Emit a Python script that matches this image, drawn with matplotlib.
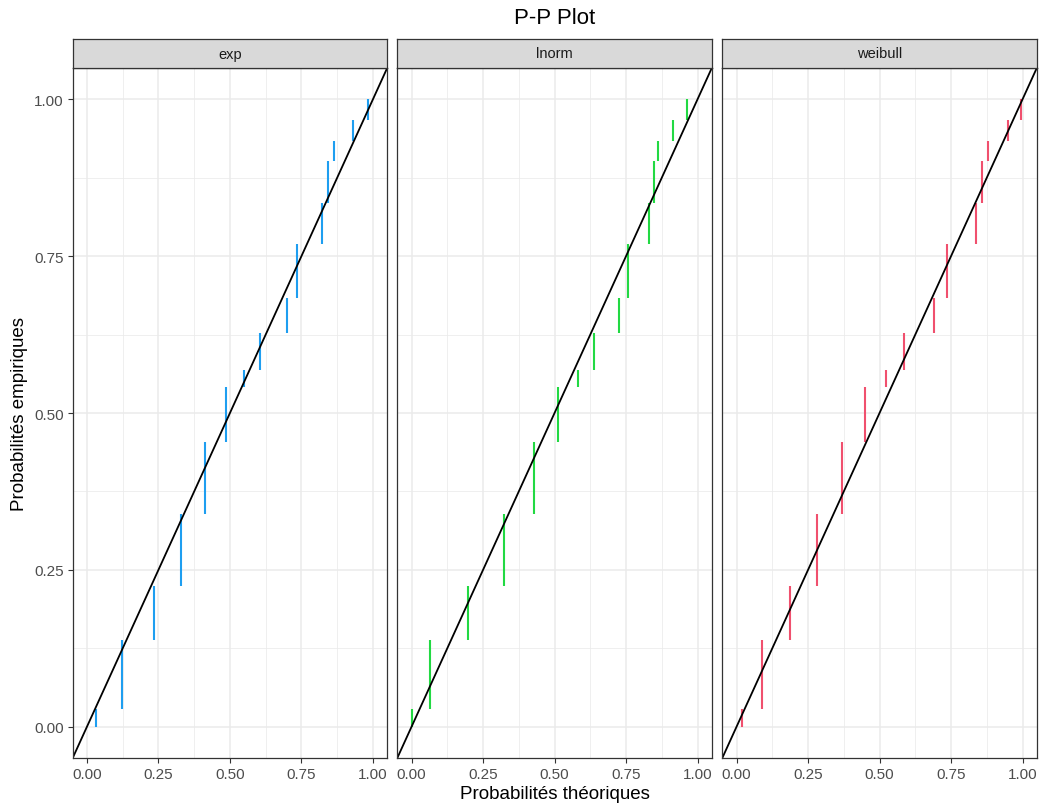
import matplotlib
matplotlib.use('Agg')
import numpy as np
from matplotlib import pyplot as plt

plt.rcParams['font.family'] = ['Liberation Sans', 'DejaVu Sans']

# Facettes
facets = ['exp', 'lnorm', 'weibull']
colors = ['#1E9EF0', '#22D943', '#F0506E']

# Bornes des probabilités empiriques (communes aux trois lois)
y_breaks = [0.0, 0.028, 0.1385, 0.224, 0.339, 0.453, 0.541, 0.569,
            0.627, 0.684, 0.770, 0.835, 0.901, 0.934, 0.967, 1.0]

# Probabilités théoriques par loi
x_exp = [0.033, 0.124, 0.235, 0.330, 0.414, 0.486, 0.550, 0.606,
         0.699, 0.736, 0.823, 0.844, 0.865, 0.930, 0.984]
x_lnorm = [0.0, 0.064, 0.198, 0.323, 0.428, 0.513, 0.581, 0.639,
           0.724, 0.757, 0.830, 0.847, 0.862, 0.915, 0.965]
x_weibull = [0.020, 0.089, 0.187, 0.282, 0.370, 0.450, 0.522, 0.585,
             0.692, 0.736, 0.836, 0.860, 0.881, 0.949, 0.995]
x_all = [x_exp, x_lnorm, x_weibull]

ticks = [0.0, 0.25, 0.5, 0.75, 1.0]
tick_labels = ['0.00', '0.25', '0.50', '0.75', '1.00']

W, H = 1043, 812
fig = plt.figure(figsize=(W / 100, H / 100), dpi=100)

panel_left = [72.7, 397.3, 722.3]
panel_w = 314.5
panel_top, panel_bottom = 69, 759
strip_top = 40

for i, name in enumerate(facets):
    l = panel_left[i] / W
    b = 1 - panel_bottom / H
    ax = fig.add_axes([l, b, panel_w / W, (panel_bottom - panel_top) / H])
    ax.set_xlim(-0.05, 1.05)
    ax.set_ylim(-0.05, 1.05)
    ax.set_xticks(ticks)
    ax.set_yticks(ticks)
    ax.set_xticks([0.125, 0.375, 0.625, 0.875], minor=True)
    ax.set_yticks([0.125, 0.375, 0.625, 0.875], minor=True)
    ax.grid(which='major', color='#EBEBEB', lw=1.1)
    ax.grid(which='minor', color='#EBEBEB', lw=0.55)
    ax.set_axisbelow(True)
    ax.tick_params(which='minor', length=0)
    ax.tick_params(which='major', length=3.5, width=0.8, color='#333333',
                   labelsize=11, labelcolor='#4D4D4D', pad=3)
    ax.set_xticklabels(tick_labels)
    if i == 0:
        ax.set_yticklabels(tick_labels)
    else:
        ax.tick_params(axis='y', left=False, labelleft=False)
    for s in ax.spines.values():
        s.set_color('#333333')
        s.set_linewidth(0.9)

    ax.vlines(x_all[i], y_breaks[:-1], y_breaks[1:], color=colors[i], lw=1.5)
    ax.plot([-0.05, 1.05], [-0.05, 1.05], color='black', lw=1.3)

    # bandeau de facette
    sax = fig.add_axes([l, 1 - panel_top / H, panel_w / W, (panel_top - strip_top) / H])
    sax.set_facecolor('#D9D9D9')
    sax.set_xticks([])
    sax.set_yticks([])
    for s in sax.spines.values():
        s.set_color('#333333')
        s.set_linewidth(0.9)
    sax.text(0.5, 0.5, name, ha='center', va='center', fontsize=10.5,
             color='#1A1A1A', transform=sax.transAxes)

# centre horizontal de la zone des panneaux
xc = (panel_left[0] + panel_left[-1] + panel_w) / 2 / W
fig.text(xc, 1 - 19 / H, 'P-P Plot', ha='center', va='center', fontsize=16)
fig.text(xc, 1 - 795 / H, 'Probabilités théoriques', ha='center', va='center', fontsize=13.5)
fig.text(20 / W, 1 - 414 / H, 'Probabilités empiriques', ha='center', va='center',
         rotation=90, fontsize=13.5)

plt.savefig('out.png', dpi=100)
plt.close()
